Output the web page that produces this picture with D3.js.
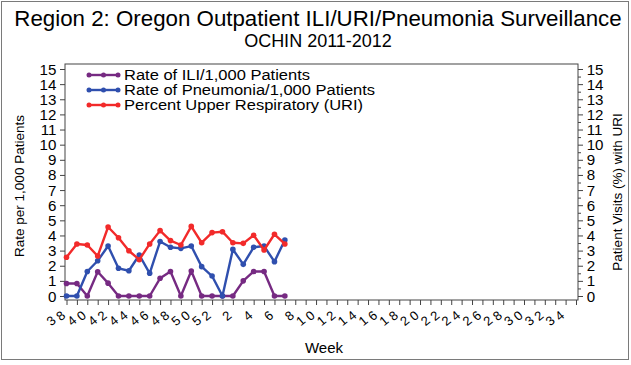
<!DOCTYPE html>
<html>
<head>
<meta charset="utf-8">
<script src="https://cdn.jsdelivr.net/npm/d3@7"></script>
<style>
  html, body { margin: 0; padding: 0; background: #fff; }
  svg { display: block; }
  text { font-family: Arial, "Liberation Sans", sans-serif; fill: #000; }
</style>
</head>
<body>
<svg id="chart" width="631" height="365"></svg>
<script>
// Surveillance weeks on the x axis: week 38 of 2011 through week 35 of 2012
const weeks = [38, 39, 40, 41, 42, 43, 44, 45, 46, 47, 48, 49, 50, 51, 52,
  1, 2, 3, 4, 5, 6, 7, 8, 9, 10, 11, 12, 13, 14, 15, 16, 17, 18, 19, 20,
  21, 22, 23, 24, 25, 26, 27, 28, 29, 30, 31, 32, 33, 34, 35];
const weekTickLabels = [38, 40, 42, 44, 46, 48, 50, 52, 2, 4, 6, 8, 10, 12, 14, 16,
  18, 20, 22, 24, 26, 28, 30, 32, 34];
const yTickValues = d3.range(0, 16);

// Weeks that have reported data
const dataWeeks = [38, 39, 40, 41, 42, 43, 44, 45, 46, 47, 48, 49, 50, 51, 52, 1, 2, 3, 4, 5, 6, 7];
const iliRate = [0.83, 0.83, 0, 1.6, 0.85, 0, 0, 0, 0, 1.17, 1.62, 0, 1.65, 0, 0, 0, 0, 1.0, 1.62, 1.62, 0, 0];
const pneumoniaRate = [0, 0, 1.62, 2.33, 3.3, 1.83, 1.67, 2.71, 1.5, 3.6, 3.22, 3.15, 3.3, 1.94, 1.32, 0, 3.08, 2.09, 3.22, 3.3, 2.27, 3.7];
const uriPercent = [2.56, 3.44, 3.37, 2.64, 4.56, 3.85, 2.99, 2.4, 3.44, 4.32, 3.66, 3.37, 4.6, 3.52, 4.19, 4.25, 3.52, 3.48, 4.01, 3.04, 4.08, 3.44];

const seriesNames = ["Rate of ILI/1,000 Patients", "Rate of Pneumonia/1,000 Patients", "Percent Upper Respiratory (URI)"];
const seriesColors = ["#762a82", "#2f4fae", "#f22a2a"];
const seriesValues = [iliRate, pneumoniaRate, uriPercent];

const svg = d3.select("#chart");

// outer border
svg.append("rect").attr("x", 1.5).attr("y", 1.5).attr("width", 627).attr("height", 358)
  .attr("fill", "none").attr("stroke", "#7a7a7a").attr("stroke-width", 1);

// titles
svg.append("text").attr("x", 318).attr("y", 26).attr("text-anchor", "middle")
  .style("font-size", "22.3px").text("Region 2: Oregon Outpatient ILI/URI/Pneumonia Surveillance");
svg.append("text").attr("x", 318).attr("y", 47).attr("text-anchor", "middle")
  .style("font-size", "18px").text("OCHIN 2011-2012");

const frame = { left: 65, right: 578, top: 64, bottom: 300 };

const x = d3.scalePoint().domain(weeks).range([66.5, 576]);
const y = d3.scaleLinear().domain([0, 15]).range([296, 69]);

// plot frame
svg.append("rect").attr("x", frame.left).attr("y", frame.top)
  .attr("width", frame.right - frame.left).attr("height", frame.bottom - frame.top)
  .attr("fill", "none").attr("stroke", "#444").attr("stroke-width", 1);

// left axis
const leftAxis = svg.append("g").attr("transform", `translate(${frame.left},0)`)
  .call(d3.axisLeft(y).tickValues(yTickValues).tickSize(5).tickPadding(3));
leftAxis.select(".domain").remove();
leftAxis.selectAll("line").attr("stroke", "#444");
leftAxis.selectAll("text").style("font-size", "14px").attr("dy", "0.36em")
  .attr("transform", "scale(1.08,1)");

// right axis with minor ticks
const rightAxis = svg.append("g").attr("transform", `translate(${frame.right},0)`)
  .call(d3.axisRight(y).tickValues(yTickValues).tickSize(5).tickPadding(3));
rightAxis.select(".domain").remove();
rightAxis.selectAll("line").attr("stroke", "#444");
rightAxis.selectAll("text").style("font-size", "14px").attr("dy", "0.36em")
  .attr("transform", "scale(1.08,1)");
svg.append("g").attr("transform", `translate(${frame.right},0)`)
  .call(d3.axisRight(y).tickValues(d3.range(0.5, 15, 1)).tickSize(3).tickFormat(""))
  .call(g => g.select(".domain").remove())
  .selectAll("line").attr("stroke", "#444");

// bottom axis: a tick for every week, labels every other week
const bottomAxis = svg.append("g").attr("transform", `translate(0,${frame.bottom})`)
  .call(d3.axisBottom(x).tickSize(5).tickFormat(""));
bottomAxis.select(".domain").remove();
bottomAxis.selectAll("line").attr("stroke", "#444");

// week labels drawn character by character along a shallow slant
const labelG = svg.append("g");
weekTickLabels.forEach(w => {
  const s = String(w);
  const n = s.length;
  for (let i = 0; i < n; i++) {
    const k = n - 1 - i;
    const cx = x(w) - 6 - k * 9.5;
    const cy = 315.5 + k * 5;
    labelG.append("text")
      .attr("transform", `translate(${cx},${cy}) rotate(-40)`)
      .attr("text-anchor", "middle").attr("dy", "0.36em")
      .style("font-size", "13px").text(s[i]);
  }
});

// axis titles
svg.append("text").attr("transform", "translate(24,186) rotate(-90)")
  .attr("text-anchor", "middle").style("font-size", "13.5px").text("Rate per 1,000 Patients");
svg.append("text").attr("transform", "translate(622,192) rotate(-90)")
  .attr("text-anchor", "middle").style("font-size", "13.5px").text("Patient Visits (%) with URI");
svg.append("text").attr("x", 324).attr("y", 353).attr("text-anchor", "middle")
  .style("font-size", "15px").text("Week");

// series lines with markers
const line = d3.line().x(d => x(d.week)).y(d => y(d.value));
seriesValues.forEach((vals, si) => {
  const pts = dataWeeks.map((w, i) => ({ week: w, value: vals[i] }));
  const g = svg.append("g");
  g.append("path").datum(pts).attr("d", line).attr("fill", "none")
    .attr("stroke", seriesColors[si]).attr("stroke-width", 2.4).attr("stroke-linejoin", "round");
  g.selectAll("circle").data(pts).join("circle")
    .attr("cx", d => x(d.week)).attr("cy", d => y(d.value)).attr("r", 2.8)
    .attr("fill", seriesColors[si]);
});

// legend
const legend = svg.append("g");
seriesNames.forEach((name, i) => {
  const ly = 75 + i * 15;
  legend.append("line").attr("x1", 89).attr("x2", 118).attr("y1", ly).attr("y2", ly)
    .attr("stroke", seriesColors[i]).attr("stroke-width", 2.4);
  [89, 103.5, 118].forEach(cx => legend.append("circle").attr("cx", cx).attr("cy", ly)
    .attr("r", 2.5).attr("fill", seriesColors[i]));
  legend.append("text").attr("x", 124).attr("y", ly).attr("dy", "0.36em")
    .style("font-size", "15px").attr("transform", `translate(124,0) scale(1.1,1) translate(-124,0)`)
    .text(name);
});
</script>
</body>
</html>
